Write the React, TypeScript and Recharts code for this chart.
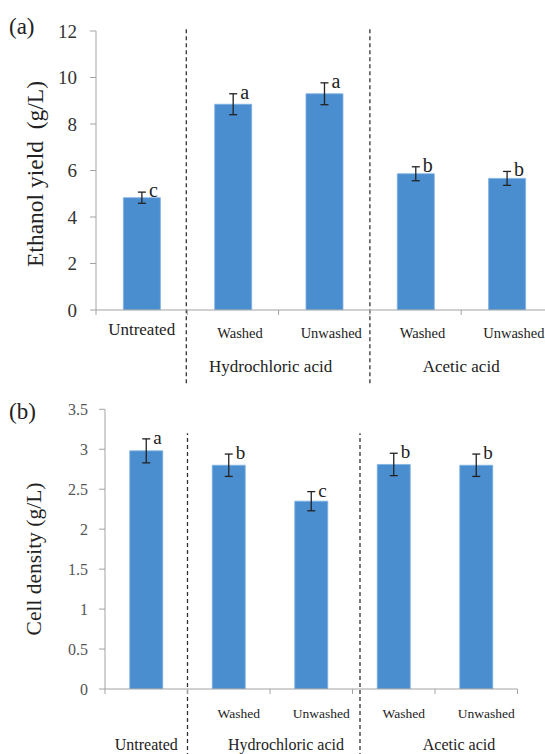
import React from "react";
import { BarChart, Bar, XAxis, YAxis, ErrorBar, LabelList, ReferenceLine } from "recharts";

// treatment categories (group + sub label)
const categoryKeys = ["Untreated", "HCl washed", "HCl unwashed", "Acetic washed", "Acetic unwashed"];
const groups = ["Untreated", "Hydrochloric acid", "Hydrochloric acid", "Acetic acid", "Acetic acid"];
const treatments = ["", "Washed", "Unwashed", "Washed", "Unwashed"];

// (a) ethanol yield, g/L
const ethanolYield = [4.83, 8.85, 9.3, 5.86, 5.66];
const ethanolError = [0.24, 0.45, 0.47, 0.3, 0.3];
const ethanolLetters = ["c", "a", "a", "b", "b"];
const ethanolTicks = [0, 2, 4, 6, 8, 10, 12];

// (b) cell density, g/L
const cellDensity = [2.98, 2.8, 2.35, 2.81, 2.8];
const cellError = [0.15, 0.14, 0.12, 0.14, 0.14];
const cellLetters = ["a", "b", "c", "b", "b"];
const cellTicks = [0, 0.5, 1, 1.5, 2, 2.5, 3, 3.5];

// dashed dividers sit at the left edge of these categories
const dividerAt = ["HCl washed", "Acetic washed"];

const SERIF = '"Liberation Serif", "Times New Roman", serif';
const BAR = "#4a8ecf";
const AXIS = "#a3a3a3";
const INK = "#222";

type Row = { key: string; value: number; err: number; letter: string };

const makeRows = (vals: number[], errs: number[], letters: string[]): Row[] =>
  categoryKeys.map((key, i) => ({ key, value: vals[i], err: errs[i], letter: letters[i] }));

interface PanelCfg {
  width: number;
  height: number;
  margin: { top: number; right: number; bottom: number; left: number };
  yWidth: number;
  xHeight: number;
  max: number;
  ticks: number[];
  tickFont: number;
  tickColor: string;
  tickMargin: number;
  subSize: number;
  subY: number;
  subDx: number;
  groupSize: number;
  groupY: number;
  soloTop: boolean;
  soloY: number;
  groupDx: Record<string, number>;
  letterSize: number;
  divLow: number;
  divHigh: number;
  divDx: number[];
}

const band = (c: PanelCfg) =>
  (c.width - c.margin.left - c.margin.right - c.yWidth) / categoryKeys.length;

const CategoryTick = (props: any) => {
  const { x, y, payload, cfg } = props;
  const c: PanelCfg = cfg;
  const i = categoryKeys.indexOf(payload.value);
  const bw = band(c);
  const left = x - bw / 2;
  const group = groups[i];
  const isFirst = i === 0 || groups[i - 1] !== group;
  let span = 0;
  for (let j = i; j < groups.length && groups[j] === group; j++) span++;
  const solo = span === 1 && !treatments[i];
  return (
    <g>
      <line x1={left} x2={left} y1={y} y2={y + 5} stroke={AXIS} />
      {i === categoryKeys.length - 1 && (
        <line x1={x + bw / 2} x2={x + bw / 2} y1={y} y2={y + 5} stroke={AXIS} />
      )}
      {treatments[i] && (
        <text x={x + c.subDx} y={y + c.subY} textAnchor="middle" fontSize={c.subSize} fontFamily={SERIF} fill={INK}>
          {treatments[i]}
        </text>
      )}
      {isFirst && (
        <text
          x={left + (span * bw) / 2 + (c.groupDx[group] ?? 0)}
          y={y + (solo && c.soloTop ? c.soloY : c.groupY)}
          textAnchor="middle"
          fontSize={c.groupSize}
          fontFamily={SERIF}
          fill={INK}
        >
          {group}
        </text>
      )}
    </g>
  );
};

const Letter = (props: any) => {
  const { rows, cfg, index, value } = props;
  const vb = props.viewBox ?? props;
  const row: Row = rows[index];
  if (!row || vb.height == null) return null;
  const ppu = Math.abs(vb.height) / row.value;
  const top = Math.min(vb.y, vb.y + vb.height) - row.err * ppu;
  return (
    <text x={vb.x + vb.width / 2 + 7} y={top + 5} fontSize={cfg.letterSize} fontFamily={SERIF} fill={INK}>
      {value}
    </text>
  );
};

const Panel = ({ rows, cfg }: { rows: Row[]; cfg: PanelCfg }) => (
  <BarChart width={cfg.width} height={cfg.height} data={rows} margin={cfg.margin} barCategoryGap="30%">
    <XAxis
      dataKey="key"
      interval={0}
      tickLine={false}
      tickSize={0}
      tickMargin={0}
      axisLine={{ stroke: AXIS }}
      height={cfg.xHeight}
      tick={(p: any) => <CategoryTick {...p} cfg={cfg} />}
    />
    <YAxis
      type="number"
      domain={[0, cfg.max]}
      ticks={cfg.ticks}
      interval={0}
      width={cfg.yWidth}
      tickSize={6}
      tickMargin={cfg.tickMargin}
      axisLine={{ stroke: AXIS }}
      tickLine={{ stroke: AXIS }}
      tick={{ fill: cfg.tickColor, fontSize: cfg.tickFont, fontFamily: SERIF }}
      allowDataOverflow
    />
    {dividerAt.map((k, j) => (
      <ReferenceLine
        key={k}
        segment={[
          { x: k, y: cfg.divLow },
          { x: k, y: cfg.divHigh },
        ]}
        position="start"
        ifOverflow="visible"
        stroke="#333"
        shape={(p: any) => (
          <line
            x1={p.x1 + cfg.divDx[j]}
            y1={p.y1}
            x2={p.x2 + cfg.divDx[j]}
            y2={p.y2}
            stroke="#333"
            strokeWidth={1.3}
            strokeDasharray="4 3"
          />
        )}
      />
    ))}
    <Bar dataKey="value" fill={BAR} stroke="#7fb1e3" strokeWidth={0.8} isAnimationActive={false}>
      <ErrorBar dataKey="err" width={4} stroke={INK} strokeWidth={1.3} direction="y" />
      <LabelList dataKey="letter" content={(p: any) => <Letter {...p} rows={rows} cfg={cfg} />} />
    </Bar>
  </BarChart>
);

const cfgA: PanelCfg = {
  width: 560,
  height: 385,
  margin: { top: 31, right: 7.5, bottom: 0, left: 0 },
  yWidth: 96,
  xHeight: 75,
  max: 12,
  ticks: ethanolTicks,
  tickFont: 19,
  tickColor: "#333",
  tickMargin: 13,
  subSize: 14.5,
  subY: 28,
  subDx: 7,
  groupSize: 17,
  groupY: 62,
  soloTop: true,
  soloY: 25,
  groupDx: { "Hydrochloric acid": -8 },
  letterSize: 20,
  divLow: -3.15,
  divHigh: 12.17,
  divDx: [-1, 0],
};

const cfgB: PanelCfg = {
  width: 545,
  height: 369,
  margin: { top: 24.3, right: 27.5, bottom: 0, left: 0 },
  yWidth: 105,
  xHeight: 65,
  max: 3.5,
  ticks: cellTicks,
  tickFont: 16,
  tickColor: "#555",
  tickMargin: 11,
  subSize: 13.5,
  subY: 29,
  subDx: 10,
  groupSize: 16,
  groupY: 61,
  soloTop: false,
  soloY: 29,
  groupDx: { "Hydrochloric acid": 16, "Acetic acid": 24 },
  letterSize: 19,
  divLow: -0.85,
  divHigh: 3.2,
  divDx: [0, 7.5],
};

export default function App() {
  const rowsA = makeRows(ethanolYield, ethanolError, ethanolLetters);
  const rowsB = makeRows(cellDensity, cellError, cellLetters);
  return (
    <div
      style={{
        position: "absolute",
        left: 0,
        top: 0,
        width: 545,
        height: 754,
        overflow: "hidden",
        background: "#fff",
        fontFamily: SERIF,
      }}
    >
      <div style={{ position: "absolute", left: 0, top: 0 }}>
        <Panel rows={rowsA} cfg={cfgA} />
      </div>
      <div style={{ position: "absolute", left: 0, top: 385 }}>
        <Panel rows={rowsB} cfg={cfgB} />
      </div>
      <svg
        width={545}
        height={754}
        style={{ position: "absolute", left: 0, top: 0, pointerEvents: "none" }}
        fontFamily={SERIF}
        fill={INK}
      >
        <text x={9} y={34} fontSize={23}>(a)</text>
        <text x={9} y={419} fontSize={23}>(b)</text>
        <text transform="translate(42.5,174) rotate(-90)" textAnchor="middle" fontSize={23.5}>
          {"Ethanol yield\u00a0 (g/L)"}
        </text>
        <text transform="translate(41,559) rotate(-90)" textAnchor="middle" fontSize={21.5}>
          Cell density (g/L)
        </text>
      </svg>
    </div>
  );
}
